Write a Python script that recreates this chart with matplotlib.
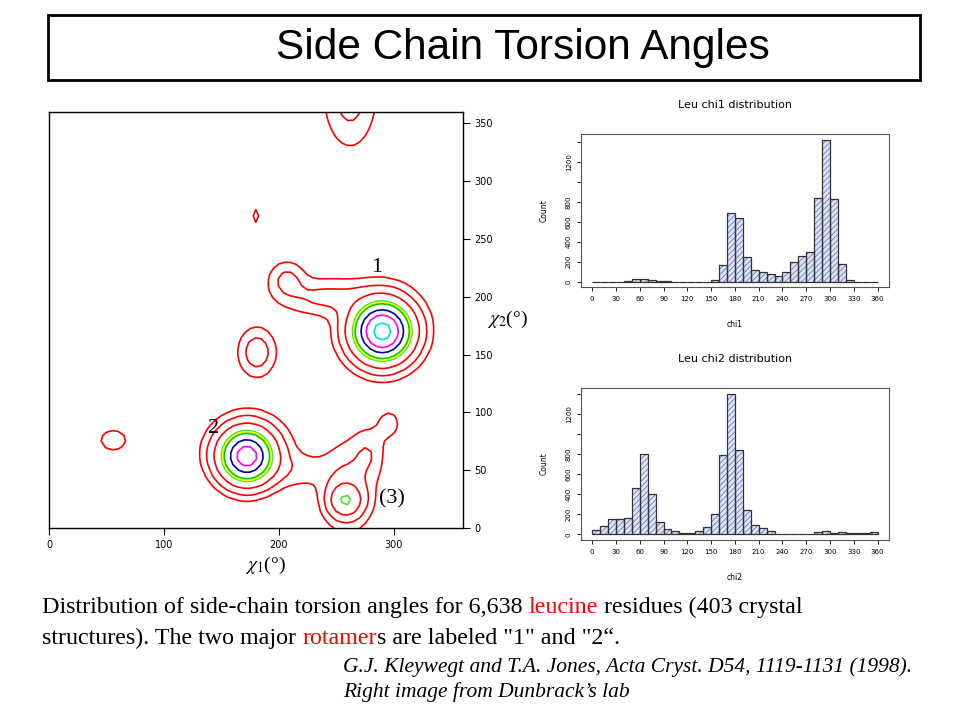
import numpy as np
import matplotlib.pyplot as plt
from matplotlib.patches import Rectangle

# Histogram counts, 10 degree bins from 0 to 360
bin_edges = np.arange(0, 370, 10)
chi1_counts = [0, 0, 0, 0, 10, 30, 25, 20, 5, 5,
               0, 0, 0, 0, 0, 15, 170, 690, 640, 250,
               120, 100, 80, 60, 100, 195, 255, 300, 840, 1420,
               830, 180, 15, 0, 0, 0]
chi2_counts = [40, 80, 155, 155, 165, 460, 800, 405, 120, 50,
               35, 15, 10, 35, 70, 205, 790, 1400, 840, 245,
               95, 60, 30, 5, 5, 0, 5, 5, 20, 30,
               15, 20, 15, 15, 15, 20]
hist_xticks = list(range(0, 361, 30))
hist_yticks = [0, 200, 400, 600, 800, 1000, 1200, 1400]
hist_ylabels = ['0', '200', '400', '600', '800', '', '1200', '']

# Density peaks
peak_chi1 = [290, 172, 258, 175, 240, 207, 181, 56, 262, 180, 260, 278, 296, 215, 290]
peak_chi2 = [170, 62, 24, 70, 200, 215, 152, 76, 375, 270, 35, 65, 90, 50, 175]
peak_s1 = [15, 14, 9, 25, 25, 10, 10, 9, 14, 3, 15, 9, 8, 20, 25]
peak_s2 = [15, 14, 9, 20, 10, 10, 13, 7, 28, 6, 25, 14, 10, 10, 25]
peak_amp = [100, 78, 22.5, 4, 6, 6, 8, 4, 7, 3, 6, 4, 3, 3, 4]
contour_levels = [2, 5, 12, 25, 28, 32, 50, 68, 92]
contour_colors = ['red', 'red', 'red', '#55dd33', '#ffff00', '#00cc00', '#000099', '#ff00ff', '#00dddd']

# Density grid
g1, g2 = np.meshgrid(np.arange(0, 361, 5), np.arange(0, 361, 5))
density = np.zeros_like(g1, dtype=float)
for c1, c2, s1, s2, a in zip(peak_chi1, peak_chi2, peak_s1, peak_s2, peak_amp):
    density += a * np.exp(-((g1 - c1) ** 2 / (2 * s1 ** 2) + (g2 - c2) ** 2 / (2 * s2 ** 2)))

plt.rcParams['mathtext.fontset'] = 'stix'
plt.rcParams['hatch.linewidth'] = 0.6

fig = plt.figure(figsize=(9.6, 7.2), dpi=100)

# Title box
bg = fig.add_axes([0, 0, 1, 1])
bg.axis('off')
bg.set_xlim(0, 1)
bg.set_ylim(0, 1)
bg.add_patch(Rectangle((0.05, 0.889), 0.908, 0.0903, fill=False, lw=2, ec='black'))
bg.text(0.545, 0.934, 'Side Chain Torsion Angles', fontsize=30.5, family='Liberation Sans',
        ha='center', va='center')

# Contour map
ax = fig.add_axes([0.051, 0.2667, 0.431, 0.578])
ax.contour(g1, g2, density, levels=contour_levels, colors=contour_colors, linewidths=1.2)
ax.set_xlim(0, 360)
ax.set_ylim(0, 360)
ax.yaxis.tick_right()
ax.set_xticks([0, 100, 200, 300])
ax.set_yticks(range(0, 351, 50))
ax.tick_params(labelsize=7, length=5, width=0.8)
lab = dict(fontsize=16, family='Liberation Serif', ha='center', va='center')
ax.text(285, 225, '1', **lab)
ax.text(143, 86, '2', **lab)
ax.text(298, 25, '(3)', **lab)
ax.text(0.522, -0.09, r'$\chi_1$(°)', fontsize=14, family='Liberation Serif',
        transform=ax.transAxes, ha='center', va='center')
ax.text(1.058, 0.5, r'$\chi_2$(°)', fontsize=14, family='Liberation Serif',
        transform=ax.transAxes, ha='left', va='center')
for s in ax.spines.values():
    s.set_linewidth(1.0)

# Histograms
def draw_hist(pos, counts, title, xlabel, ymax):
    h = fig.add_axes(pos)
    h.bar(bin_edges[:-1], counts, width=10, align='edge', color='#dde4f5',
          edgecolor='#6a7cc8', hatch='//////', linewidth=0)
    h.bar(bin_edges[:-1], counts, width=10, align='edge', fill=False,
          edgecolor='#333333', linewidth=0.9)
    h.set_xlim(-14.4, 374.4)
    h.set_ylim(-0.04 * ymax, 1.04 * ymax)
    h.set_xticks(hist_xticks)
    h.set_yticks(hist_yticks)
    h.set_yticklabels(hist_ylabels, rotation=90, va='center')
    h.tick_params(labelsize=5, length=3, width=0.6)
    for s in h.spines.values():
        s.set_color('#555555')
        s.set_linewidth(0.8)
    h.set_title(title, fontsize=8, pad=19)
    h.set_xlabel(xlabel, fontsize=5.5, labelpad=13)
    h.set_ylabel('Count', fontsize=5.5, labelpad=12)
    return h

draw_hist([0.605, 0.601, 0.321, 0.2125], chi1_counts, 'Leu chi1 distribution', 'chi1', 1420)
draw_hist([0.605, 0.25, 0.321, 0.211], chi2_counts, 'Leu chi2 distribution', 'chi2', 1400)

# Caption with coloured words
def colored_line(x, y, pieces, **kw):
    prev = bg.text(x, y, pieces[0][0], color=pieces[0][1], **kw)
    for txt, col in pieces[1:]:
        prev = bg.annotate(txt, xy=(1, 0), xycoords=prev, color=col,
                           ha='left', va='bottom', **kw)

cap = dict(fontsize=17.3, family='Liberation Serif')
colored_line(0.044, 0.149, [('Distribution of side-chain torsion angles for 6,638 ', 'black'),
                            ('leucine', 'red'),
                            (' residues (403 crystal', 'black')], **cap)
colored_line(0.044, 0.106, [('structures). The two major ', 'black'),
                            ('rotamer', 'red'),
                            ('s are labeled "1" and "2\u201c.', 'black')], **cap)

bg.text(0.357, 0.066, 'G.J. Kleywegt and T.A. Jones, Acta Cryst. D54, 1119-1131 (1998).',
        fontsize=15.5, family='Liberation Serif', style='italic')
bg.text(0.357, 0.032, 'Right image from Dunbrack\u2019s lab',
        fontsize=15.5, family='Liberation Serif', style='italic')

fig.savefig('out.png', dpi=100)
